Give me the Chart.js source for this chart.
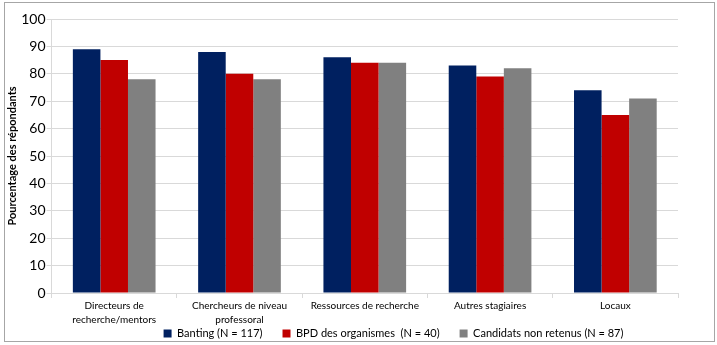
<!DOCTYPE html>
<html>
<head>
<meta charset="utf-8">
<script src="https://cdn.jsdelivr.net/npm/chart.js@4"></script>
<style>
  body { margin: 0; background: #fff; }
  #frame {
    position: absolute; left: 4px; top: 2px;
    width: 709px; height: 338px;
    border: 1px solid #a6a6a6;
  }
  #wrap { position: absolute; left: 0; top: 0; width: 717px; height: 345px; }
</style>
</head>
<body>
<div id="frame"></div>
<div id="wrap"><canvas id="myChart"></canvas></div>
<script>
const categories = [
  ["Directeurs de", "recherche/mentors"],
  ["Chercheurs de niveau", "professoral"],
  "Ressources de recherche",
  "Autres stagiaires",
  "Locaux"
];
const seriesNames = ["Banting (N = 117)", "BPD des organismes  (N = 40)", "Candidats non retenus (N = 87)"];
const banting = [89, 88, 86, 83, 74];
const bpd = [85, 80, 84, 79, 65];
const nonRetenus = [78, 78, 84, 82, 71];
const colors = ["#002060", "#c00000", "#808080"];

const font = "Lato, 'Open Sans', sans-serif";
const graphics = document.getElementById("myChart");

const makeSet = (label, data, color) => ({
  label: label,
  data: data,
  backgroundColor: color,
  borderWidth: 0,
  categoryPercentage: 0.66,
  barPercentage: 1
});

// legend takes little room and is drawn up against the x labels, like the original
const legendFit = {
  id: "legendFit",
  beforeInit(chart) {
    const fit = chart.legend.fit;
    chart.legend.fit = function () {
      fit.call(this);
      this.height = 17;
    };
  },
  beforeDraw(chart) {
    const lg = chart.legend;
    lg.top = 308;
    lg.left += 52;
    lg.right += 52;
  }
};

const config = {
  type: "bar",
  data: {
    labels: categories,
    datasets: [
      makeSet(seriesNames[0], banting, colors[0]),
      makeSet(seriesNames[1], bpd, colors[1]),
      makeSet(seriesNames[2], nonRetenus, colors[2])
    ]
  },
  options: {
    responsive: false,
    animation: false,
    devicePixelRatio: 1,
    layout: { padding: { left: 5, right: 39, top: 19, bottom: 0 } },
    plugins: {
      tooltip: { enabled: false },
      legend: {
        position: "bottom",
        labels: {
          boxWidth: 8,
          boxHeight: 8,
          padding: 20,
          color: "#000",
          font: { family: font, size: 11 }
        }
      }
    },
    scales: {
      x: {
        grid: { drawOnChartArea: false, drawTicks: true, tickLength: 5, color: "#d9d9d9" },
        border: { color: "#d9d9d9" },
        ticks: {
          color: "#000",
          font: { family: font, size: 10, lineHeight: 1.4 },
          maxRotation: 0,
          autoSkip: false,
          padding: 1
        }
      },
      y: {
        min: 0,
        max: 100,
        grid: { color: "#d9d9d9", tickLength: 5 },
        border: { color: "#d9d9d9" },
        ticks: {
          stepSize: 10,
          color: "#000",
          font: { family: font, size: 14 },
          padding: 1
        },
        title: {
          display: true,
          text: "Pourcentage des répondants",
          color: "#000",
          font: { family: font, size: 11, weight: "bold" },
          padding: 1
        }
      }
    }
  },
  plugins: [legendFit]
};

graphics.width = 717;
graphics.height = 345;
const myGraph = new Chart(graphics, config);
</script>
</body>
</html>
